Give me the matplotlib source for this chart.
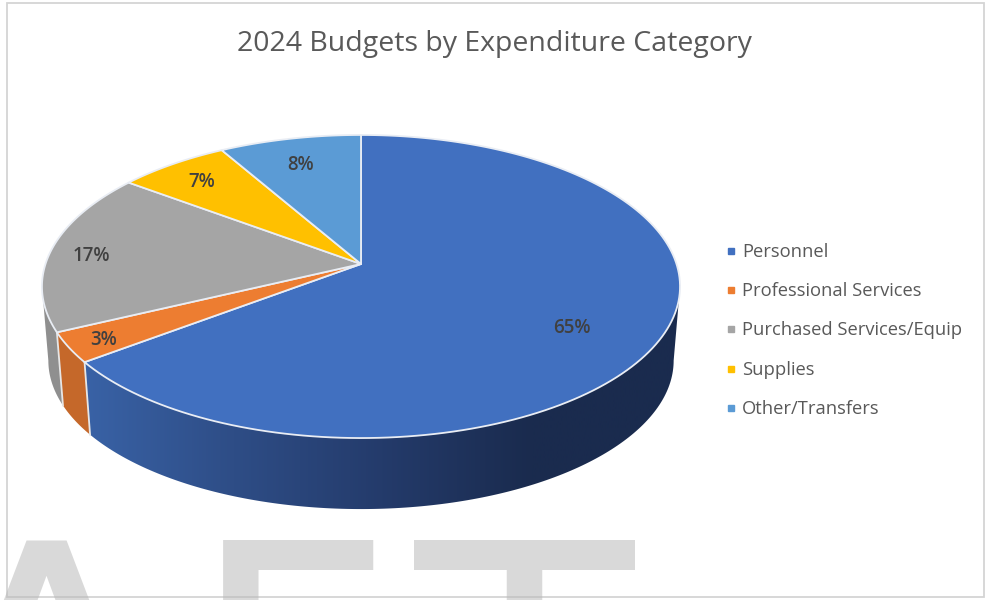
import numpy as np
import matplotlib
matplotlib.use("Agg")
import matplotlib.pyplot as plt
from matplotlib.colors import LinearSegmentedColormap
from matplotlib.lines import Line2D
from matplotlib.patches import Polygon, Rectangle

categories = ["Personnel", "Professional Services", "Purchased Services/Equip", "Supplies", "Other/Transfers"]
shares = [64.7, 3.2, 17.3, 6.5, 8.3]
pct_labels = ["65%", "3%", "17%", "7%", "8%"]
colors = ["#4170C0", "#ED7D31", "#A5A5A5", "#FFC000", "#5B9BD5"]
side_colors = ["#2A4A85", "#C5682A", "#8F8F8F", "#D9A300", "#4D84B5"]
title = "2024 Budgets by Expenditure Category"
watermark = ["A", "F", "T"]

# layout, in pixels of the 993x600 picture
APEX = (361, 264)
TILT = 0.1485      # perspective of the disc
RX, RY = 315.5, 148.2
WALL_DROP = 74.5
WALL_SCALE = 0.98
LABEL_POS = [(572, 328), (104, 340), (91, 256), (202, 182), (301, 165)]
WATERMARK_X = [-77, 188, 415]
LEGEND_X, LEGEND_Y, LEGEND_STEP = 731, 251, 39.2
TEXT = "#595959"


def rim(frac, wall=False):
    # point on the disc edge, frac runs clockwise from 12 o'clock
    t = 2 * np.pi * np.asarray(frac)
    u, v = np.sin(t), np.cos(t)
    d = 1 + TILT * v
    x, y = RX * u / d, -RY * v / d
    if wall:
        return APEX[0] + x * WALL_SCALE, APEX[1] + WALL_DROP + y * WALL_SCALE
    return APEX[0] + x, APEX[1] + y


plt.rcParams["font.family"] = ["Open Sans", "DejaVu Sans"]

fig = plt.figure(figsize=(9.93, 6), dpi=100, facecolor="white")
ax = fig.add_axes([0, 0, 1, 1])
ax.set_xlim(0, 993)
ax.set_ylim(600, 0)
ax.axis("off")

# watermark behind everything, cut off by the bottom of the picture
for ch, x in zip(watermark, WATERMARK_X):
    ax.text(x, 802, ch, fontsize=258, family="DejaVu Sans", color="#D9D9D9",
            ha="left", va="baseline", zorder=1)

bounds = np.cumsum([0] + shares) / sum(shares)
blue_ramp = LinearSegmentedColormap.from_list(
    "wall", ["#3962A6", "#2E4D86", "#243B6B", "#1A2B4E", "#1A2B4E"])

# the wall is only seen between the two points where the rim turns back
turn = np.arccos(-TILT) / (2 * np.pi)

# side wall
for i in range(len(shares)):
    lo = max(bounds[i], turn)
    hi = min(bounds[i + 1], 1 - turn)
    if lo >= hi:
        continue
    fr = np.linspace(lo, hi, 160)
    xt, yt = rim(fr)
    xb, yb = rim(fr, wall=True)
    pts = np.r_[np.c_[xt, yt], np.c_[xb, yb][::-1]]
    if i == 0:
        poly = Polygon(pts, closed=True, facecolor="none", edgecolor="none", zorder=2)
        ax.add_patch(poly)
        im = ax.imshow(np.linspace(0, 1, 256).reshape(1, -1), cmap=blue_ramp, aspect="auto",
                       extent=(85, 680, 600, 0), zorder=2)
        im.set_clip_path(poly)
        ax.set_xlim(0, 993)
        ax.set_ylim(600, 0)
    else:
        ax.add_patch(Polygon(pts, closed=True, facecolor=side_colors[i], edgecolor="none", zorder=2))

# white seams between wall pieces
for b in bounds[1:3]:
    xt, yt = rim(b)
    xb, yb = rim(b, wall=True)
    ax.plot([xt, xb], [yt, yb], color="#E6E6E6", lw=1.3, zorder=3)

# top face
for i in range(len(shares)):
    fr = np.linspace(bounds[i], bounds[i + 1], 160)
    xt, yt = rim(fr)
    pts = np.r_[[APEX], np.c_[xt, yt]]
    ax.add_patch(Polygon(pts, closed=True, facecolor=colors[i], edgecolor="#E9EDF4",
                         lw=1.3, joinstyle="round", zorder=4))

for lab, (x, y) in zip(pct_labels, LABEL_POS):
    ax.text(x, y, lab, fontsize=13.5, fontweight="semibold", color="#404040",
            ha="center", va="center", zorder=5)

ax.text(494, 44, title, fontsize=20.5, color=TEXT, ha="center", va="center", zorder=5)

# legend
for i, cat in enumerate(categories):
    y = LEGEND_Y + i * LEGEND_STEP
    ax.add_line(Line2D([LEGEND_X], [y], marker="s", ms=4, color=colors[i], ls="none", zorder=5))
    ax.text(LEGEND_X + 11, y + 1, cat, fontsize=13.2, color=TEXT, ha="left", va="center", zorder=5)

# chart frame
ax.add_patch(Rectangle((7, 3), 977, 594, facecolor="none", edgecolor="#B8B8B8", alpha=0.6, lw=1.3, zorder=6))

fig.savefig("out.png", dpi=100)
